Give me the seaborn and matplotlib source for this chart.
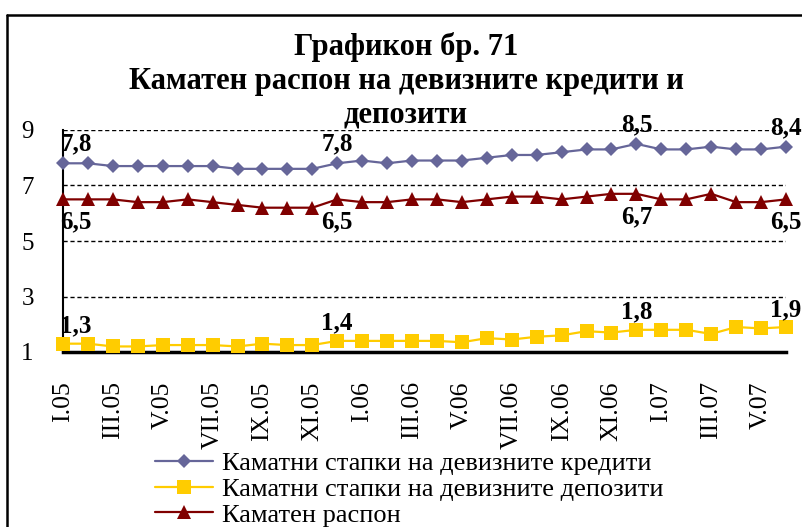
import matplotlib
matplotlib.use("Agg")
import matplotlib.pyplot as plt
from matplotlib.lines import Line2D
import pandas as pd
import seaborn as sns

# Monthly periods, January 2005 - June 2007
months = [
    "I.05", "II.05", "III.05", "IV.05", "V.05", "VI.05", "VII.05", "VIII.05",
    "IX.05", "X.05", "XI.05", "XII.05",
    "I.06", "II.06", "III.06", "IV.06", "V.06", "VI.06", "VII.06", "VIII.06",
    "IX.06", "X.06", "XI.06", "XII.06",
    "I.07", "II.07", "III.07", "IV.07", "V.07", "VI.07",
]

# Interest rates on foreign-currency loans (%)
credit_rates = [7.8, 7.8, 7.7, 7.7, 7.7, 7.7, 7.7, 7.6, 7.6, 7.6, 7.6, 7.8,
                7.9, 7.8, 7.9, 7.9, 7.9, 8.0, 8.1, 8.1, 8.2, 8.3, 8.3, 8.5,
                8.3, 8.3, 8.4, 8.3, 8.3, 8.4]

# Interest rates on foreign-currency deposits (%)
deposit_rates = [1.3, 1.3, 1.2, 1.2, 1.25, 1.25, 1.25, 1.2, 1.3, 1.25, 1.25, 1.4,
                 1.4, 1.4, 1.4, 1.4, 1.35, 1.5, 1.45, 1.55, 1.6, 1.75, 1.7, 1.8,
                 1.8, 1.8, 1.65, 1.9, 1.85, 1.9]

# Interest rate spread (percentage points)
spread = [6.5, 6.5, 6.5, 6.4, 6.4, 6.5, 6.4, 6.3, 6.2, 6.2, 6.2, 6.5,
          6.4, 6.4, 6.5, 6.5, 6.4, 6.5, 6.6, 6.6, 6.5, 6.6, 6.7, 6.7,
          6.5, 6.5, 6.7, 6.4, 6.4, 6.5]

series_names = [
    "Каматни стапки на девизните кредити",
    "Каматни стапки на девизните депозити",
    "Каматен распон",
]
title_lines = ["Графикон бр. 71",
               "Каматен распон на девизните кредити и",
               "депозити"]
labelled_points = [0, 11, 23, 29]
y_ticks = [1, 3, 5, 7, 9]

sns.set_style("white")
plt.rcParams["font.family"] = ["Liberation Serif", "DejaVu Serif"]
plt.rcParams["text.color"] = "black"
plt.rcParams["xtick.color"] = "black"
plt.rcParams["ytick.color"] = "black"
plt.rcParams["axes.labelcolor"] = "black"

W, H = 803, 527
fig = plt.figure(figsize=(W / 100, H / 100), dpi=100)
ax = fig.add_axes([63 / W, 1 - 352 / H, (786 - 63) / W, (352 - 130) / H])

df = pd.DataFrame({
    "period": range(len(months)),
    "credit": credit_rates,
    "deposit": deposit_rates,
    "spread": spread,
})

styles = [
    ("credit", "#666699", "D", 7.5),
    ("deposit", "#FFCC00", "s", 10),
    ("spread", "#800000", "^", 9.5),
]
for (col, color, marker, ms), name in zip(styles, series_names):
    sns.lineplot(data=df, x="period", y=col, ax=ax, color=color, marker=marker,
                 markersize=ms, markeredgewidth=0, linewidth=1.6, label=name,
                 clip_on=False, zorder=4)


def fmt(v):
    return f"{v:.1f}".replace(".", ",")


label_kw = dict(textcoords="offset points", fontsize=18, fontweight="bold",
                color="black", zorder=6)
for i in labelled_points:
    ha = "left" if i == 0 else "center"
    dx = -2 if i == 0 else 0
    ax.annotate(fmt(credit_rates[i]), (i, credit_rates[i]), xytext=(dx, 9),
                ha=ha, va="baseline", **label_kw)
    ax.annotate(fmt(deposit_rates[i]), (i, deposit_rates[i]), xytext=(dx, 8),
                ha=ha, va="baseline", **label_kw)
    ax.annotate(fmt(spread[i]), (i, spread[i]), xytext=(dx, -8),
                ha=ha, va="top", **label_kw)

ax.set_xlim(0, len(months) - 1)
ax.set_ylim(1, 9)
ax.set_yticks(y_ticks)
ax.set_yticklabels([str(t) for t in y_ticks])
ax.set_xticks(range(len(months)))
ax.set_xticklabels([m if k % 2 == 0 else "" for k, m in enumerate(months)])
ax.set_xlabel("")
ax.set_ylabel("")

ax.grid(axis="y", color="black", linestyle=(0, (3, 2)), linewidth=1.0)
ax.grid(axis="x", visible=False)
ax.set_axisbelow(True)

for side in ("top", "right"):
    ax.spines[side].set_visible(False)
ax.spines["left"].set_color("black")
ax.spines["left"].set_linewidth(1.5)
ax.spines["bottom"].set_color("black")
ax.spines["bottom"].set_linewidth(2.5)

ax.tick_params(axis="x", direction="out", length=8, width=1.5, color="black",
               labelcolor="black", pad=13, labelsize=18.5, labelrotation=90)
ax.tick_params(axis="y", direction="out", length=8, width=1.0, color="black",
               labelcolor="black", pad=13, labelsize=18)

handles, labels = ax.get_legend_handles_labels()
ax.get_legend().remove()
leg = fig.legend(handles, labels, loc="upper left",
                 bbox_to_anchor=(155 / W, 1 - 452 / H), frameon=False,
                 fontsize=19, handlelength=2.2, handletextpad=0.35,
                 labelspacing=0.08, borderpad=0, borderaxespad=0)
for t in leg.get_texts():
    t.set_color("black")

baselines = [55, 89, 122]
for line, yb in zip(title_lines, baselines):
    fig.text(406 / W, 1 - yb / H, line, ha="center", va="baseline",
             fontsize=22, fontweight="bold", color="black")

# chart frame (left and top edges)
fig.add_artist(Line2D([7 / W, 7 / W], [0, 1 - 15 / H], color="black",
                      linewidth=1.8, transform=fig.transFigure))
fig.add_artist(Line2D([7 / W, 1], [1 - 15 / H, 1 - 15 / H], color="black",
                      linewidth=1.8, transform=fig.transFigure))

fig.savefig("out.png", dpi=100)
